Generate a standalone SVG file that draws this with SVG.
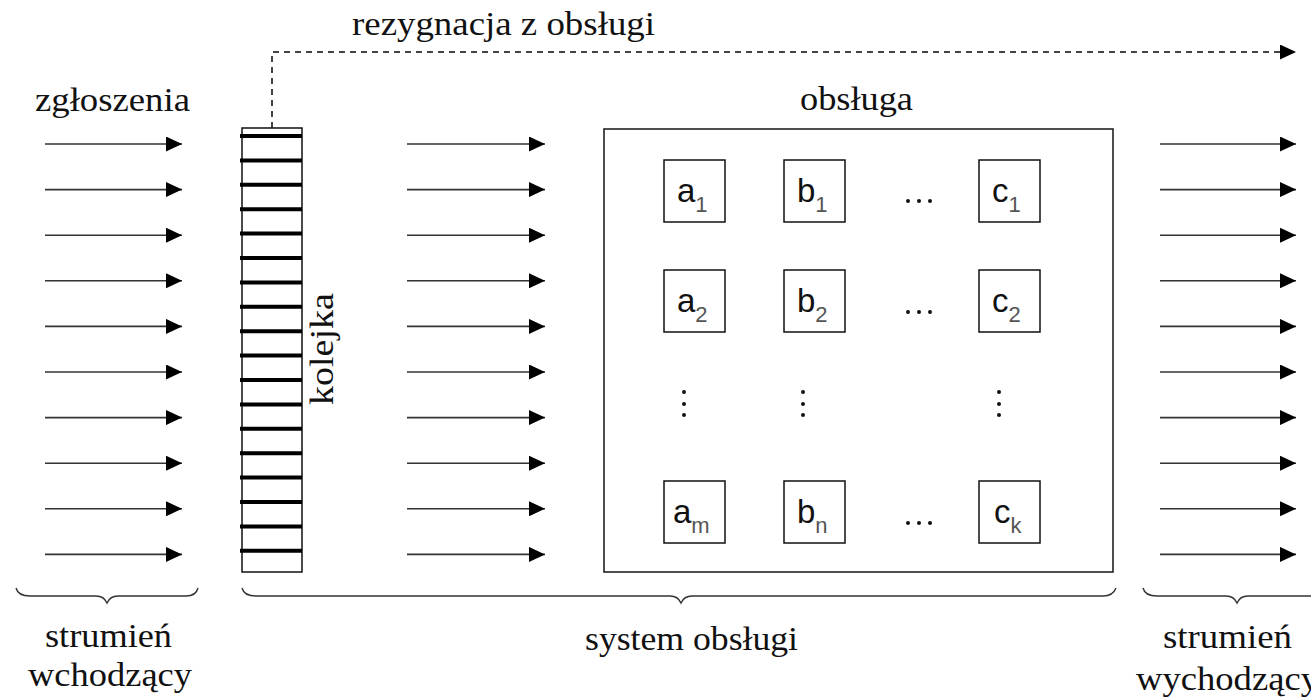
<svg xmlns="http://www.w3.org/2000/svg" width="1311" height="698" viewBox="0 0 1311 698">
<style>
.lbl{font-family:"Liberation Serif","Times New Roman",serif;font-size:33px;fill:#111}
.box{fill:#fff;stroke:#111;stroke-width:1.5}
.arr{stroke:#333;stroke-width:1.6;fill:none;marker-end:url(#ah)}
.sv{font-family:"Liberation Sans",Arial,sans-serif;font-size:33px;fill:#111}
.sub{font-size:22px;fill:#555}
.brace{fill:none;stroke:#333;stroke-width:1.4}
.dot{fill:#111}
</style>
<defs>
<marker id="ah" markerUnits="userSpaceOnUse" markerWidth="16" markerHeight="15" refX="16" refY="7.5" orient="auto">
<path d="M0,0 L16,7.5 L0,15 Z" fill="#000"/>
</marker>
</defs>

<g id="connectors">
<g id="in-arrows">
<path class="arr" d="M45,144H182"/><path class="arr" d="M45,189.6H182"/><path class="arr" d="M45,235.2H182"/><path class="arr" d="M45,280.8H182"/><path class="arr" d="M45,326.4H182"/><path class="arr" d="M45,372H182"/><path class="arr" d="M45,417.6H182"/><path class="arr" d="M45,463.2H182"/><path class="arr" d="M45,508.8H182"/><path class="arr" d="M45,554.4H182"/>
</g>
<g id="mid-arrows">
<path class="arr" d="M407,144H545"/><path class="arr" d="M407,189.6H545"/><path class="arr" d="M407,235.2H545"/><path class="arr" d="M407,280.8H545"/><path class="arr" d="M407,326.4H545"/><path class="arr" d="M407,372H545"/><path class="arr" d="M407,417.6H545"/><path class="arr" d="M407,463.2H545"/><path class="arr" d="M407,508.8H545"/><path class="arr" d="M407,554.4H545"/>
</g>
<g id="out-arrows">
<path class="arr" d="M1160,144H1296"/><path class="arr" d="M1160,189.6H1296"/><path class="arr" d="M1160,235.2H1296"/><path class="arr" d="M1160,280.8H1296"/><path class="arr" d="M1160,326.4H1296"/><path class="arr" d="M1160,372H1296"/><path class="arr" d="M1160,417.6H1296"/><path class="arr" d="M1160,463.2H1296"/><path class="arr" d="M1160,508.8H1296"/><path class="arr" d="M1160,554.4H1296"/>
</g>
<path id="rezygnacja" d="M272,128V52H1296" fill="none" stroke="#444" stroke-width="2" stroke-dasharray="6,5" marker-end="url(#ah)"/>
</g>

<g id="label-rezygnacja"><text class="lbl" x="352" y="35" textLength="303" lengthAdjust="spacingAndGlyphs">rezygnacja z obsługi</text></g>
<g id="label-zgloszenia"><text class="lbl" x="35" y="111" textLength="155" lengthAdjust="spacingAndGlyphs">zgłoszenia</text></g>

<g id="kolejka">
<rect x="242" y="128" width="60" height="444" fill="#fff" stroke="#111" stroke-width="1.5"/>
<path d="M240,136H302M240,160.4H302M240,184.8H302M240,209.2H302M240,233.6H302M240,258H302M240,282.4H302M240,306.8H302M240,331.2H302M240,355.6H302M240,380H302M240,404.4H302M240,428.8H302M240,453.2H302M240,477.6H302M240,502H302M240,526.4H302M240,550.8H302" stroke="#000" stroke-width="4"/>
<text class="lbl" transform="translate(333,405) rotate(-90)" textLength="112" lengthAdjust="spacingAndGlyphs">kolejka</text>
</g>

<g id="obsluga">
<rect x="604" y="129" width="509" height="443" fill="none" stroke="#222" stroke-width="1.6"/>
<text class="lbl" x="800" y="110" textLength="113" lengthAdjust="spacingAndGlyphs">obsługa</text>
</g>

<g id="a1"><rect class="box" x="664" y="160" width="61" height="62"/><text class="sv" x="677" y="202">a<tspan class="sub" dy="10">1</tspan></text></g>
<g id="b1"><rect class="box" x="784" y="160" width="61" height="62"/><text class="sv" x="797" y="202">b<tspan class="sub" dy="10">1</tspan></text></g>
<g id="c1"><rect class="box" x="979" y="160" width="61" height="62"/><text class="sv" x="992" y="202">c<tspan class="sub" dy="10">1</tspan></text></g>
<g id="a2"><rect class="box" x="664" y="270" width="61" height="62"/><text class="sv" x="677" y="312">a<tspan class="sub" dy="10">2</tspan></text></g>
<g id="b2"><rect class="box" x="784" y="270" width="61" height="62"/><text class="sv" x="797" y="312">b<tspan class="sub" dy="10">2</tspan></text></g>
<g id="c2"><rect class="box" x="979" y="270" width="61" height="62"/><text class="sv" x="992" y="312">c<tspan class="sub" dy="10">2</tspan></text></g>
<g id="am"><rect class="box" x="664" y="481" width="61" height="62"/><text class="sv" x="673" y="523">a<tspan class="sub" dy="10">m</tspan></text></g>
<g id="bn"><rect class="box" x="784" y="481" width="61" height="62"/><text class="sv" x="797" y="523">b<tspan class="sub" dy="10">n</tspan></text></g>
<g id="ck"><rect class="box" x="979" y="481" width="61" height="62"/><text class="sv" x="994" y="523">c<tspan class="sub" dy="10">k</tspan></text></g>

<g id="ellipses">
<circle class="dot" cx="908" cy="201" r="2"/><circle class="dot" cx="919" cy="201" r="2"/><circle class="dot" cx="930" cy="201" r="2"/>
<circle class="dot" cx="908" cy="312" r="2"/><circle class="dot" cx="919" cy="312" r="2"/><circle class="dot" cx="930" cy="312" r="2"/>
<circle class="dot" cx="908" cy="523" r="2"/><circle class="dot" cx="919" cy="523" r="2"/><circle class="dot" cx="930" cy="523" r="2"/>
<circle class="dot" cx="684" cy="392" r="2"/><circle class="dot" cx="684" cy="404" r="2"/><circle class="dot" cx="684" cy="415" r="2"/>
<circle class="dot" cx="803" cy="392" r="2"/><circle class="dot" cx="803" cy="404" r="2"/><circle class="dot" cx="803" cy="415" r="2"/>
<circle class="dot" cx="999" cy="392" r="2"/><circle class="dot" cx="999" cy="404" r="2"/><circle class="dot" cx="999" cy="415" r="2"/>
</g>

<g id="braces">
<path class="brace" d="M16,588Q18,596 30,596H96Q104,596 107,603Q110,596 118,596H186Q196,596 198,588"/>
<path class="brace" d="M242,588Q244,596 256,596H670Q678,596 681,603Q684,596 692,596H1103Q1113,596 1116,588"/>
<path class="brace" d="M1143,588Q1145,596 1157,596H1226Q1234,596 1237,603Q1240,596 1248,596H1320Q1330,596 1332,588"/>
</g>

<g id="label-in"><text class="lbl" x="45" y="647" textLength="127" lengthAdjust="spacingAndGlyphs">strumień</text><text class="lbl" x="28" y="686" textLength="164" lengthAdjust="spacingAndGlyphs">wchodzący</text></g>
<g id="label-system"><text class="lbl" x="585" y="650" textLength="213" lengthAdjust="spacingAndGlyphs">system obsługi</text></g>
<g id="label-out"><text class="lbl" x="1163" y="648" textLength="129" lengthAdjust="spacingAndGlyphs">strumień</text><text class="lbl" x="1136" y="690" textLength="183" lengthAdjust="spacingAndGlyphs">wychodzący</text></g>
</svg>
